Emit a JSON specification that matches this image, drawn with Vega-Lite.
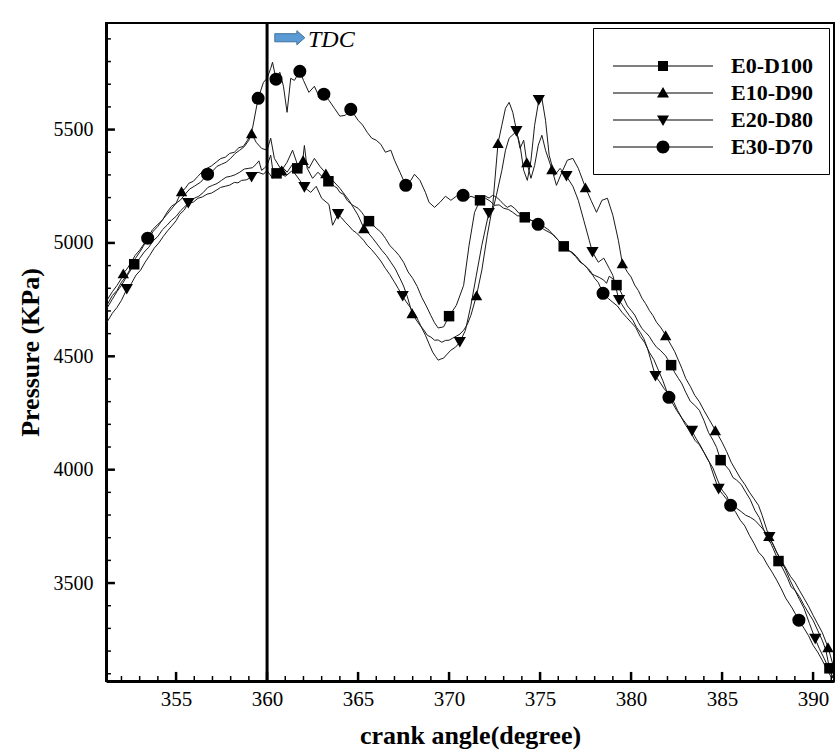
{
  "$schema": "https://vega.github.io/schema/vega-lite/v6.json",
  "width": 728,
  "height": 658,
  "autosize": {"type": "none"},
  "padding": {"left": 106, "top": 23, "right": 6, "bottom": 71},
  "background": "white",
  "config": {
    "font": "Liberation Serif",
    "view": {"stroke": "black", "strokeWidth": 2},
    "axis": {
      "domainColor": "black",
      "domainWidth": 3,
      "ticks": false,
      "grid": false,
      "labelColor": "black",
      "titleColor": "black",
      "labelFont": "Liberation Serif",
      "titleFont": "Liberation Serif",
      "titleFontWeight": "bold",
      "labelFontSize": 20,
      "titleFontSize": 26,
      "labelOverlap": false,
      "labelFlush": false
    }
  },
  "data": {
    "values": [
      {"s": "E0-D100", "a": 351.2, "p": 4712},
      {"s": "E0-D100", "a": 351.5, "p": 4752},
      {"s": "E0-D100", "a": 351.75, "p": 4785},
      {"s": "E0-D100", "a": 352.0, "p": 4813},
      {"s": "E0-D100", "a": 352.35, "p": 4860},
      {"s": "E0-D100", "a": 352.7, "p": 4906, "m": 1},
      {"s": "E0-D100", "a": 353.0, "p": 4932},
      {"s": "E0-D100", "a": 353.25, "p": 4960},
      {"s": "E0-D100", "a": 353.5, "p": 4981},
      {"s": "E0-D100", "a": 353.75, "p": 5010},
      {"s": "E0-D100", "a": 354.0, "p": 5029},
      {"s": "E0-D100", "a": 354.25, "p": 5058},
      {"s": "E0-D100", "a": 354.5, "p": 5078},
      {"s": "E0-D100", "a": 354.75, "p": 5100},
      {"s": "E0-D100", "a": 355.0, "p": 5117},
      {"s": "E0-D100", "a": 355.25, "p": 5142},
      {"s": "E0-D100", "a": 355.5, "p": 5162},
      {"s": "E0-D100", "a": 355.75, "p": 5178},
      {"s": "E0-D100", "a": 356.0, "p": 5197},
      {"s": "E0-D100", "a": 356.25, "p": 5206},
      {"s": "E0-D100", "a": 356.5, "p": 5223},
      {"s": "E0-D100", "a": 356.75, "p": 5245},
      {"s": "E0-D100", "a": 357.0, "p": 5254},
      {"s": "E0-D100", "a": 357.25, "p": 5262},
      {"s": "E0-D100", "a": 357.5, "p": 5276},
      {"s": "E0-D100", "a": 357.75, "p": 5290},
      {"s": "E0-D100", "a": 358.0, "p": 5294},
      {"s": "E0-D100", "a": 358.25, "p": 5301},
      {"s": "E0-D100", "a": 358.5, "p": 5312},
      {"s": "E0-D100", "a": 358.75, "p": 5326},
      {"s": "E0-D100", "a": 359.0, "p": 5329},
      {"s": "E0-D100", "a": 359.2, "p": 5332},
      {"s": "E0-D100", "a": 359.4, "p": 5347},
      {"s": "E0-D100", "a": 359.55, "p": 5362},
      {"s": "E0-D100", "a": 359.7, "p": 5320},
      {"s": "E0-D100", "a": 359.85, "p": 5330},
      {"s": "E0-D100", "a": 360.0, "p": 5342},
      {"s": "E0-D100", "a": 360.2, "p": 5387},
      {"s": "E0-D100", "a": 360.35, "p": 5300},
      {"s": "E0-D100", "a": 360.52, "p": 5307, "m": 1},
      {"s": "E0-D100", "a": 360.8, "p": 5338},
      {"s": "E0-D100", "a": 361.1, "p": 5312},
      {"s": "E0-D100", "a": 361.4, "p": 5347},
      {"s": "E0-D100", "a": 361.66, "p": 5329, "m": 1},
      {"s": "E0-D100", "a": 361.9, "p": 5320},
      {"s": "E0-D100", "a": 362.05, "p": 5430},
      {"s": "E0-D100", "a": 362.2, "p": 5330},
      {"s": "E0-D100", "a": 362.5, "p": 5285},
      {"s": "E0-D100", "a": 362.8, "p": 5312},
      {"s": "E0-D100", "a": 363.0, "p": 5294},
      {"s": "E0-D100", "a": 363.37, "p": 5272, "m": 1},
      {"s": "E0-D100", "a": 363.55, "p": 5258},
      {"s": "E0-D100", "a": 363.7, "p": 5250},
      {"s": "E0-D100", "a": 363.85, "p": 5242},
      {"s": "E0-D100", "a": 364.0, "p": 5223},
      {"s": "E0-D100", "a": 364.2, "p": 5214},
      {"s": "E0-D100", "a": 364.4, "p": 5188},
      {"s": "E0-D100", "a": 364.6, "p": 5172},
      {"s": "E0-D100", "a": 364.8, "p": 5162},
      {"s": "E0-D100", "a": 365.0, "p": 5153},
      {"s": "E0-D100", "a": 365.2, "p": 5135},
      {"s": "E0-D100", "a": 365.4, "p": 5112},
      {"s": "E0-D100", "a": 365.6, "p": 5096, "m": 1},
      {"s": "E0-D100", "a": 365.8, "p": 5080},
      {"s": "E0-D100", "a": 366.0, "p": 5065},
      {"s": "E0-D100", "a": 366.25, "p": 5048},
      {"s": "E0-D100", "a": 366.5, "p": 5021},
      {"s": "E0-D100", "a": 366.75, "p": 4988},
      {"s": "E0-D100", "a": 367.0, "p": 4968},
      {"s": "E0-D100", "a": 367.25, "p": 4945},
      {"s": "E0-D100", "a": 367.5, "p": 4915},
      {"s": "E0-D100", "a": 367.75, "p": 4872},
      {"s": "E0-D100", "a": 368.0, "p": 4844},
      {"s": "E0-D100", "a": 368.25, "p": 4808},
      {"s": "E0-D100", "a": 368.5, "p": 4760},
      {"s": "E0-D100", "a": 368.75, "p": 4722},
      {"s": "E0-D100", "a": 369.0, "p": 4680},
      {"s": "E0-D100", "a": 369.2, "p": 4648},
      {"s": "E0-D100", "a": 369.4, "p": 4625},
      {"s": "E0-D100", "a": 369.7, "p": 4630},
      {"s": "E0-D100", "a": 370.0, "p": 4677, "m": 1},
      {"s": "E0-D100", "a": 370.4, "p": 4725},
      {"s": "E0-D100", "a": 370.8, "p": 4813},
      {"s": "E0-D100", "a": 371.1, "p": 4990},
      {"s": "E0-D100", "a": 371.4, "p": 5135},
      {"s": "E0-D100", "a": 371.7, "p": 5188, "m": 1},
      {"s": "E0-D100", "a": 372.0, "p": 5206},
      {"s": "E0-D100", "a": 372.2, "p": 5198},
      {"s": "E0-D100", "a": 372.4, "p": 5210},
      {"s": "E0-D100", "a": 372.6, "p": 5202},
      {"s": "E0-D100", "a": 372.8, "p": 5188},
      {"s": "E0-D100", "a": 373.0, "p": 5170},
      {"s": "E0-D100", "a": 373.2, "p": 5157},
      {"s": "E0-D100", "a": 373.4, "p": 5165},
      {"s": "E0-D100", "a": 373.6, "p": 5153},
      {"s": "E0-D100", "a": 373.85, "p": 5130},
      {"s": "E0-D100", "a": 374.16, "p": 5113, "m": 1},
      {"s": "E0-D100", "a": 374.5, "p": 5100},
      {"s": "E0-D100", "a": 374.75, "p": 5095},
      {"s": "E0-D100", "a": 375.0, "p": 5082},
      {"s": "E0-D100", "a": 375.25, "p": 5070},
      {"s": "E0-D100", "a": 375.5, "p": 5056},
      {"s": "E0-D100", "a": 375.75, "p": 5032},
      {"s": "E0-D100", "a": 376.0, "p": 5012},
      {"s": "E0-D100", "a": 376.3, "p": 4985, "m": 1},
      {"s": "E0-D100", "a": 376.5, "p": 4972},
      {"s": "E0-D100", "a": 376.7, "p": 4959},
      {"s": "E0-D100", "a": 376.95, "p": 4940},
      {"s": "E0-D100", "a": 377.2, "p": 4915},
      {"s": "E0-D100", "a": 377.4, "p": 4905},
      {"s": "E0-D100", "a": 377.6, "p": 4888},
      {"s": "E0-D100", "a": 377.8, "p": 4865},
      {"s": "E0-D100", "a": 378.0, "p": 4857},
      {"s": "E0-D100", "a": 378.25, "p": 4848},
      {"s": "E0-D100", "a": 378.5, "p": 4836},
      {"s": "E0-D100", "a": 378.65, "p": 4822},
      {"s": "E0-D100", "a": 378.8, "p": 4853},
      {"s": "E0-D100", "a": 379.0, "p": 4842},
      {"s": "E0-D100", "a": 379.2, "p": 4814, "m": 1},
      {"s": "E0-D100", "a": 379.4, "p": 4790},
      {"s": "E0-D100", "a": 379.6, "p": 4756},
      {"s": "E0-D100", "a": 379.8, "p": 4722},
      {"s": "E0-D100", "a": 380.0, "p": 4703},
      {"s": "E0-D100", "a": 380.2, "p": 4682},
      {"s": "E0-D100", "a": 380.4, "p": 4650},
      {"s": "E0-D100", "a": 380.6, "p": 4622},
      {"s": "E0-D100", "a": 380.8, "p": 4606},
      {"s": "E0-D100", "a": 381.0, "p": 4588},
      {"s": "E0-D100", "a": 381.2, "p": 4562},
      {"s": "E0-D100", "a": 381.4, "p": 4540},
      {"s": "E0-D100", "a": 381.6, "p": 4527},
      {"s": "E0-D100", "a": 381.9, "p": 4502},
      {"s": "E0-D100", "a": 382.2, "p": 4461, "m": 1},
      {"s": "E0-D100", "a": 382.4, "p": 4428},
      {"s": "E0-D100", "a": 382.6, "p": 4403},
      {"s": "E0-D100", "a": 382.8, "p": 4378},
      {"s": "E0-D100", "a": 383.0, "p": 4342},
      {"s": "E0-D100", "a": 383.25, "p": 4302},
      {"s": "E0-D100", "a": 383.5, "p": 4284},
      {"s": "E0-D100", "a": 383.75, "p": 4262},
      {"s": "E0-D100", "a": 384.0, "p": 4218},
      {"s": "E0-D100", "a": 384.25, "p": 4165},
      {"s": "E0-D100", "a": 384.5, "p": 4130},
      {"s": "E0-D100", "a": 384.7, "p": 4098},
      {"s": "E0-D100", "a": 384.92, "p": 4042, "m": 1},
      {"s": "E0-D100", "a": 385.15, "p": 4022},
      {"s": "E0-D100", "a": 385.4, "p": 3998},
      {"s": "E0-D100", "a": 385.6, "p": 3965},
      {"s": "E0-D100", "a": 385.8, "p": 3954},
      {"s": "E0-D100", "a": 386.05, "p": 3935},
      {"s": "E0-D100", "a": 386.3, "p": 3901},
      {"s": "E0-D100", "a": 386.55, "p": 3868},
      {"s": "E0-D100", "a": 386.8, "p": 3821},
      {"s": "E0-D100", "a": 387.05, "p": 3788},
      {"s": "E0-D100", "a": 387.3, "p": 3733},
      {"s": "E0-D100", "a": 387.55, "p": 3698},
      {"s": "E0-D100", "a": 387.8, "p": 3654},
      {"s": "E0-D100", "a": 388.1, "p": 3597, "m": 1},
      {"s": "E0-D100", "a": 388.35, "p": 3562},
      {"s": "E0-D100", "a": 388.6, "p": 3521},
      {"s": "E0-D100", "a": 388.8, "p": 3482},
      {"s": "E0-D100", "a": 389.0, "p": 3469},
      {"s": "E0-D100", "a": 389.25, "p": 3440},
      {"s": "E0-D100", "a": 389.5, "p": 3402},
      {"s": "E0-D100", "a": 389.75, "p": 3368},
      {"s": "E0-D100", "a": 390.0, "p": 3336},
      {"s": "E0-D100", "a": 390.25, "p": 3292},
      {"s": "E0-D100", "a": 390.5, "p": 3248},
      {"s": "E0-D100", "a": 390.7, "p": 3205},
      {"s": "E0-D100", "a": 390.9, "p": 3124, "m": 1},
      {"s": "E0-D100", "a": 391.1, "p": 3080},

      {"s": "E10-D90", "a": 351.2, "p": 4747},
      {"s": "E10-D90", "a": 351.5, "p": 4785},
      {"s": "E10-D90", "a": 351.75, "p": 4812},
      {"s": "E10-D90", "a": 352.0, "p": 4844},
      {"s": "E10-D90", "a": 352.1, "p": 4866, "m": 1},
      {"s": "E10-D90", "a": 352.3, "p": 4885},
      {"s": "E10-D90", "a": 352.5, "p": 4910},
      {"s": "E10-D90", "a": 352.75, "p": 4945},
      {"s": "E10-D90", "a": 353.0, "p": 4968},
      {"s": "E10-D90", "a": 353.25, "p": 4998},
      {"s": "E10-D90", "a": 353.5, "p": 5021},
      {"s": "E10-D90", "a": 353.75, "p": 5052},
      {"s": "E10-D90", "a": 354.0, "p": 5073},
      {"s": "E10-D90", "a": 354.25, "p": 5102},
      {"s": "E10-D90", "a": 354.5, "p": 5126},
      {"s": "E10-D90", "a": 354.75, "p": 5150},
      {"s": "E10-D90", "a": 355.0, "p": 5175},
      {"s": "E10-D90", "a": 355.3, "p": 5228, "m": 1},
      {"s": "E10-D90", "a": 355.5, "p": 5240},
      {"s": "E10-D90", "a": 355.7, "p": 5263},
      {"s": "E10-D90", "a": 355.95, "p": 5272},
      {"s": "E10-D90", "a": 356.2, "p": 5294},
      {"s": "E10-D90", "a": 356.45, "p": 5315},
      {"s": "E10-D90", "a": 356.7, "p": 5329},
      {"s": "E10-D90", "a": 356.95, "p": 5340},
      {"s": "E10-D90", "a": 357.2, "p": 5356},
      {"s": "E10-D90", "a": 357.45, "p": 5372},
      {"s": "E10-D90", "a": 357.7, "p": 5378},
      {"s": "E10-D90", "a": 357.95, "p": 5395},
      {"s": "E10-D90", "a": 358.2, "p": 5400},
      {"s": "E10-D90", "a": 358.45, "p": 5420},
      {"s": "E10-D90", "a": 358.7, "p": 5426},
      {"s": "E10-D90", "a": 358.9, "p": 5450},
      {"s": "E10-D90", "a": 359.15, "p": 5484, "m": 1},
      {"s": "E10-D90", "a": 359.4, "p": 5444},
      {"s": "E10-D90", "a": 359.7, "p": 5417},
      {"s": "E10-D90", "a": 360.0, "p": 5409},
      {"s": "E10-D90", "a": 360.2, "p": 5462},
      {"s": "E10-D90", "a": 360.4, "p": 5373},
      {"s": "E10-D90", "a": 360.8, "p": 5320, "m": 1},
      {"s": "E10-D90", "a": 361.1, "p": 5356},
      {"s": "E10-D90", "a": 361.4, "p": 5409},
      {"s": "E10-D90", "a": 361.7, "p": 5338},
      {"s": "E10-D90", "a": 361.98, "p": 5365, "m": 1},
      {"s": "E10-D90", "a": 362.3, "p": 5329},
      {"s": "E10-D90", "a": 362.6, "p": 5373},
      {"s": "E10-D90", "a": 362.9, "p": 5338},
      {"s": "E10-D90", "a": 363.23, "p": 5307, "m": 1},
      {"s": "E10-D90", "a": 363.6, "p": 5276},
      {"s": "E10-D90", "a": 364.0, "p": 5241},
      {"s": "E10-D90", "a": 364.5, "p": 5188},
      {"s": "E10-D90", "a": 365.0, "p": 5122},
      {"s": "E10-D90", "a": 365.32, "p": 5065, "m": 1},
      {"s": "E10-D90", "a": 365.55, "p": 5045},
      {"s": "E10-D90", "a": 365.8, "p": 5021},
      {"s": "E10-D90", "a": 366.05, "p": 4995},
      {"s": "E10-D90", "a": 366.3, "p": 4968},
      {"s": "E10-D90", "a": 366.55, "p": 4945},
      {"s": "E10-D90", "a": 366.8, "p": 4915},
      {"s": "E10-D90", "a": 367.05, "p": 4885},
      {"s": "E10-D90", "a": 367.3, "p": 4844},
      {"s": "E10-D90", "a": 367.5, "p": 4810},
      {"s": "E10-D90", "a": 367.7, "p": 4765},
      {"s": "E10-D90", "a": 367.97, "p": 4690, "m": 1},
      {"s": "E10-D90", "a": 368.2, "p": 4660},
      {"s": "E10-D90", "a": 368.4, "p": 4637},
      {"s": "E10-D90", "a": 368.6, "p": 4618},
      {"s": "E10-D90", "a": 368.8, "p": 4593},
      {"s": "E10-D90", "a": 369.0, "p": 4585},
      {"s": "E10-D90", "a": 369.2, "p": 4571},
      {"s": "E10-D90", "a": 369.4, "p": 4572},
      {"s": "E10-D90", "a": 369.6, "p": 4562},
      {"s": "E10-D90", "a": 369.8, "p": 4570},
      {"s": "E10-D90", "a": 370.0, "p": 4571},
      {"s": "E10-D90", "a": 370.2, "p": 4580},
      {"s": "E10-D90", "a": 370.4, "p": 4589},
      {"s": "E10-D90", "a": 370.6, "p": 4598},
      {"s": "E10-D90", "a": 370.8, "p": 4615},
      {"s": "E10-D90", "a": 371.0, "p": 4640},
      {"s": "E10-D90", "a": 371.2, "p": 4681},
      {"s": "E10-D90", "a": 371.51, "p": 4769, "m": 1},
      {"s": "E10-D90", "a": 371.8, "p": 4880},
      {"s": "E10-D90", "a": 372.1, "p": 5034},
      {"s": "E10-D90", "a": 372.4, "p": 5166},
      {"s": "E10-D90", "a": 372.69, "p": 5440, "m": 1},
      {"s": "E10-D90", "a": 372.9, "p": 5519},
      {"s": "E10-D90", "a": 373.1, "p": 5594},
      {"s": "E10-D90", "a": 373.3, "p": 5620},
      {"s": "E10-D90", "a": 373.5, "p": 5576},
      {"s": "E10-D90", "a": 373.7, "p": 5497},
      {"s": "E10-D90", "a": 373.9, "p": 5417},
      {"s": "E10-D90", "a": 374.1, "p": 5453},
      {"s": "E10-D90", "a": 374.27, "p": 5356, "m": 1},
      {"s": "E10-D90", "a": 374.5, "p": 5285},
      {"s": "E10-D90", "a": 374.7, "p": 5342},
      {"s": "E10-D90", "a": 374.9, "p": 5431},
      {"s": "E10-D90", "a": 375.1, "p": 5475},
      {"s": "E10-D90", "a": 375.3, "p": 5409},
      {"s": "E10-D90", "a": 375.65, "p": 5325, "m": 1},
      {"s": "E10-D90", "a": 375.9, "p": 5254},
      {"s": "E10-D90", "a": 376.2, "p": 5312},
      {"s": "E10-D90", "a": 376.5, "p": 5365},
      {"s": "E10-D90", "a": 376.8, "p": 5373},
      {"s": "E10-D90", "a": 377.1, "p": 5329},
      {"s": "E10-D90", "a": 377.49, "p": 5245, "m": 1},
      {"s": "E10-D90", "a": 377.8, "p": 5188},
      {"s": "E10-D90", "a": 378.1, "p": 5135},
      {"s": "E10-D90", "a": 378.4, "p": 5188},
      {"s": "E10-D90", "a": 378.7, "p": 5197},
      {"s": "E10-D90", "a": 379.0, "p": 5122},
      {"s": "E10-D90", "a": 379.3, "p": 5012},
      {"s": "E10-D90", "a": 379.52, "p": 4910, "m": 1},
      {"s": "E10-D90", "a": 379.65, "p": 4892},
      {"s": "E10-D90", "a": 379.8, "p": 4871},
      {"s": "E10-D90", "a": 380.0, "p": 4850},
      {"s": "E10-D90", "a": 380.2, "p": 4814},
      {"s": "E10-D90", "a": 380.4, "p": 4790},
      {"s": "E10-D90", "a": 380.6, "p": 4756},
      {"s": "E10-D90", "a": 380.8, "p": 4732},
      {"s": "E10-D90", "a": 381.0, "p": 4703},
      {"s": "E10-D90", "a": 381.2, "p": 4680},
      {"s": "E10-D90", "a": 381.4, "p": 4650},
      {"s": "E10-D90", "a": 381.65, "p": 4625},
      {"s": "E10-D90", "a": 381.9, "p": 4593, "m": 1},
      {"s": "E10-D90", "a": 382.05, "p": 4570},
      {"s": "E10-D90", "a": 382.2, "p": 4549},
      {"s": "E10-D90", "a": 382.4, "p": 4520},
      {"s": "E10-D90", "a": 382.6, "p": 4483},
      {"s": "E10-D90", "a": 382.8, "p": 4445},
      {"s": "E10-D90", "a": 383.0, "p": 4403},
      {"s": "E10-D90", "a": 383.25, "p": 4368},
      {"s": "E10-D90", "a": 383.5, "p": 4328},
      {"s": "E10-D90", "a": 383.75, "p": 4300},
      {"s": "E10-D90", "a": 384.0, "p": 4262},
      {"s": "E10-D90", "a": 384.3, "p": 4220},
      {"s": "E10-D90", "a": 384.63, "p": 4174, "m": 1},
      {"s": "E10-D90", "a": 384.8, "p": 4150},
      {"s": "E10-D90", "a": 385.0, "p": 4121},
      {"s": "E10-D90", "a": 385.25, "p": 4080},
      {"s": "E10-D90", "a": 385.5, "p": 4033},
      {"s": "E10-D90", "a": 385.75, "p": 3998},
      {"s": "E10-D90", "a": 386.0, "p": 3963},
      {"s": "E10-D90", "a": 386.25, "p": 3935},
      {"s": "E10-D90", "a": 386.5, "p": 3901},
      {"s": "E10-D90", "a": 386.75, "p": 3872},
      {"s": "E10-D90", "a": 387.0, "p": 3843},
      {"s": "E10-D90", "a": 387.2, "p": 3799},
      {"s": "E10-D90", "a": 387.57, "p": 3707, "m": 1},
      {"s": "E10-D90", "a": 387.8, "p": 3670},
      {"s": "E10-D90", "a": 388.0, "p": 3636},
      {"s": "E10-D90", "a": 388.25, "p": 3600},
      {"s": "E10-D90", "a": 388.5, "p": 3566},
      {"s": "E10-D90", "a": 388.75, "p": 3530},
      {"s": "E10-D90", "a": 389.0, "p": 3504},
      {"s": "E10-D90", "a": 389.25, "p": 3468},
      {"s": "E10-D90", "a": 389.5, "p": 3433},
      {"s": "E10-D90", "a": 389.75, "p": 3398},
      {"s": "E10-D90", "a": 390.0, "p": 3358},
      {"s": "E10-D90", "a": 390.25, "p": 3320},
      {"s": "E10-D90", "a": 390.5, "p": 3283},
      {"s": "E10-D90", "a": 390.82, "p": 3217, "m": 1},
      {"s": "E10-D90", "a": 391.1, "p": 3138},

      {"s": "E20-D80", "a": 351.2, "p": 4650},
      {"s": "E20-D80", "a": 351.5, "p": 4690},
      {"s": "E20-D80", "a": 351.75, "p": 4715},
      {"s": "E20-D80", "a": 352.0, "p": 4747},
      {"s": "E20-D80", "a": 352.29, "p": 4796, "m": 1},
      {"s": "E20-D80", "a": 352.55, "p": 4822},
      {"s": "E20-D80", "a": 352.8, "p": 4858},
      {"s": "E20-D80", "a": 353.05, "p": 4880},
      {"s": "E20-D80", "a": 353.3, "p": 4915},
      {"s": "E20-D80", "a": 353.55, "p": 4945},
      {"s": "E20-D80", "a": 353.8, "p": 4977},
      {"s": "E20-D80", "a": 354.05, "p": 5000},
      {"s": "E20-D80", "a": 354.3, "p": 5029},
      {"s": "E20-D80", "a": 354.55, "p": 5055},
      {"s": "E20-D80", "a": 354.8, "p": 5078},
      {"s": "E20-D80", "a": 355.0, "p": 5098},
      {"s": "E20-D80", "a": 355.2, "p": 5126},
      {"s": "E20-D80", "a": 355.45, "p": 5145},
      {"s": "E20-D80", "a": 355.67, "p": 5175, "m": 1},
      {"s": "E20-D80", "a": 355.95, "p": 5180},
      {"s": "E20-D80", "a": 356.2, "p": 5197},
      {"s": "E20-D80", "a": 356.45, "p": 5203},
      {"s": "E20-D80", "a": 356.7, "p": 5215},
      {"s": "E20-D80", "a": 356.95, "p": 5220},
      {"s": "E20-D80", "a": 357.2, "p": 5232},
      {"s": "E20-D80", "a": 357.45, "p": 5245},
      {"s": "E20-D80", "a": 357.7, "p": 5250},
      {"s": "E20-D80", "a": 357.95, "p": 5255},
      {"s": "E20-D80", "a": 358.2, "p": 5267},
      {"s": "E20-D80", "a": 358.4, "p": 5265},
      {"s": "E20-D80", "a": 358.6, "p": 5276},
      {"s": "E20-D80", "a": 358.85, "p": 5278},
      {"s": "E20-D80", "a": 359.15, "p": 5290, "m": 1},
      {"s": "E20-D80", "a": 359.5, "p": 5312},
      {"s": "E20-D80", "a": 359.8, "p": 5303},
      {"s": "E20-D80", "a": 360.0, "p": 5320},
      {"s": "E20-D80", "a": 360.3, "p": 5285},
      {"s": "E20-D80", "a": 360.6, "p": 5312},
      {"s": "E20-D80", "a": 361.0, "p": 5294},
      {"s": "E20-D80", "a": 361.4, "p": 5320},
      {"s": "E20-D80", "a": 361.8, "p": 5276},
      {"s": "E20-D80", "a": 362.05, "p": 5245, "m": 1},
      {"s": "E20-D80", "a": 362.4, "p": 5223},
      {"s": "E20-D80", "a": 362.7, "p": 5250},
      {"s": "E20-D80", "a": 363.0, "p": 5197},
      {"s": "E20-D80", "a": 363.4, "p": 5170},
      {"s": "E20-D80", "a": 363.6, "p": 5078},
      {"s": "E20-D80", "a": 363.9, "p": 5126, "m": 1},
      {"s": "E20-D80", "a": 364.1, "p": 5110},
      {"s": "E20-D80", "a": 364.3, "p": 5091},
      {"s": "E20-D80", "a": 364.5, "p": 5075},
      {"s": "E20-D80", "a": 364.7, "p": 5056},
      {"s": "E20-D80", "a": 364.9, "p": 5045},
      {"s": "E20-D80", "a": 365.1, "p": 5029},
      {"s": "E20-D80", "a": 365.3, "p": 5012},
      {"s": "E20-D80", "a": 365.5, "p": 4990},
      {"s": "E20-D80", "a": 365.75, "p": 4970},
      {"s": "E20-D80", "a": 366.0, "p": 4946},
      {"s": "E20-D80", "a": 366.25, "p": 4920},
      {"s": "E20-D80", "a": 366.5, "p": 4888},
      {"s": "E20-D80", "a": 366.75, "p": 4860},
      {"s": "E20-D80", "a": 367.0, "p": 4827},
      {"s": "E20-D80", "a": 367.2, "p": 4800},
      {"s": "E20-D80", "a": 367.45, "p": 4765, "m": 1},
      {"s": "E20-D80", "a": 367.65, "p": 4740},
      {"s": "E20-D80", "a": 367.9, "p": 4712},
      {"s": "E20-D80", "a": 368.1, "p": 4690},
      {"s": "E20-D80", "a": 368.3, "p": 4659},
      {"s": "E20-D80", "a": 368.5, "p": 4625},
      {"s": "E20-D80", "a": 368.7, "p": 4593},
      {"s": "E20-D80", "a": 368.9, "p": 4555},
      {"s": "E20-D80", "a": 369.1, "p": 4518},
      {"s": "E20-D80", "a": 369.25, "p": 4500},
      {"s": "E20-D80", "a": 369.4, "p": 4483},
      {"s": "E20-D80", "a": 369.55, "p": 4488},
      {"s": "E20-D80", "a": 369.7, "p": 4492},
      {"s": "E20-D80", "a": 369.9, "p": 4510},
      {"s": "E20-D80", "a": 370.1, "p": 4527},
      {"s": "E20-D80", "a": 370.35, "p": 4540},
      {"s": "E20-D80", "a": 370.59, "p": 4562, "m": 1},
      {"s": "E20-D80", "a": 370.9, "p": 4615},
      {"s": "E20-D80", "a": 371.2, "p": 4725},
      {"s": "E20-D80", "a": 371.5, "p": 4858},
      {"s": "E20-D80", "a": 371.8, "p": 4990},
      {"s": "E20-D80", "a": 372.18, "p": 5131, "m": 1},
      {"s": "E20-D80", "a": 372.4, "p": 5144},
      {"s": "E20-D80", "a": 372.6, "p": 5210},
      {"s": "E20-D80", "a": 372.9, "p": 5320},
      {"s": "E20-D80", "a": 373.1, "p": 5409},
      {"s": "E20-D80", "a": 373.3, "p": 5462},
      {"s": "E20-D80", "a": 373.7, "p": 5492, "m": 1},
      {"s": "E20-D80", "a": 373.9, "p": 5431},
      {"s": "E20-D80", "a": 374.1, "p": 5320},
      {"s": "E20-D80", "a": 374.3, "p": 5276},
      {"s": "E20-D80", "a": 374.5, "p": 5365},
      {"s": "E20-D80", "a": 374.7, "p": 5519},
      {"s": "E20-D80", "a": 374.93, "p": 5629, "m": 1},
      {"s": "E20-D80", "a": 375.1, "p": 5638},
      {"s": "E20-D80", "a": 375.3, "p": 5541},
      {"s": "E20-D80", "a": 375.5, "p": 5387},
      {"s": "E20-D80", "a": 375.8, "p": 5298},
      {"s": "E20-D80", "a": 376.1, "p": 5329},
      {"s": "E20-D80", "a": 376.45, "p": 5294, "m": 1},
      {"s": "E20-D80", "a": 376.8, "p": 5250},
      {"s": "E20-D80", "a": 377.1, "p": 5188},
      {"s": "E20-D80", "a": 377.4, "p": 5100},
      {"s": "E20-D80", "a": 377.7, "p": 5012},
      {"s": "E20-D80", "a": 377.88, "p": 4959, "m": 1},
      {"s": "E20-D80", "a": 378.2, "p": 4915},
      {"s": "E20-D80", "a": 378.5, "p": 4933},
      {"s": "E20-D80", "a": 378.8, "p": 4888},
      {"s": "E20-D80", "a": 379.0, "p": 4857},
      {"s": "E20-D80", "a": 379.34, "p": 4747, "m": 1},
      {"s": "E20-D80", "a": 379.5, "p": 4728},
      {"s": "E20-D80", "a": 379.7, "p": 4703},
      {"s": "E20-D80", "a": 379.9, "p": 4680},
      {"s": "E20-D80", "a": 380.1, "p": 4659},
      {"s": "E20-D80", "a": 380.3, "p": 4628},
      {"s": "E20-D80", "a": 380.5, "p": 4606},
      {"s": "E20-D80", "a": 380.7, "p": 4578},
      {"s": "E20-D80", "a": 380.9, "p": 4536},
      {"s": "E20-D80", "a": 381.1, "p": 4480},
      {"s": "E20-D80", "a": 381.34, "p": 4412, "m": 1},
      {"s": "E20-D80", "a": 381.55, "p": 4390},
      {"s": "E20-D80", "a": 381.8, "p": 4359},
      {"s": "E20-D80", "a": 382.05, "p": 4335},
      {"s": "E20-D80", "a": 382.3, "p": 4306},
      {"s": "E20-D80", "a": 382.55, "p": 4262},
      {"s": "E20-D80", "a": 382.8, "p": 4227},
      {"s": "E20-D80", "a": 383.05, "p": 4200},
      {"s": "E20-D80", "a": 383.35, "p": 4170, "m": 1},
      {"s": "E20-D80", "a": 383.55, "p": 4140},
      {"s": "E20-D80", "a": 383.8, "p": 4108},
      {"s": "E20-D80", "a": 384.05, "p": 4070},
      {"s": "E20-D80", "a": 384.3, "p": 4033},
      {"s": "E20-D80", "a": 384.55, "p": 3972},
      {"s": "E20-D80", "a": 384.81, "p": 3914, "m": 1},
      {"s": "E20-D80", "a": 385.05, "p": 3890},
      {"s": "E20-D80", "a": 385.3, "p": 3865},
      {"s": "E20-D80", "a": 385.55, "p": 3848},
      {"s": "E20-D80", "a": 385.8, "p": 3830},
      {"s": "E20-D80", "a": 386.05, "p": 3815},
      {"s": "E20-D80", "a": 386.3, "p": 3799},
      {"s": "E20-D80", "a": 386.55, "p": 3790},
      {"s": "E20-D80", "a": 386.8, "p": 3777},
      {"s": "E20-D80", "a": 387.0, "p": 3760},
      {"s": "E20-D80", "a": 387.2, "p": 3742},
      {"s": "E20-D80", "a": 387.6, "p": 3702, "m": 1},
      {"s": "E20-D80", "a": 387.8, "p": 3672},
      {"s": "E20-D80", "a": 388.0, "p": 3636},
      {"s": "E20-D80", "a": 388.25, "p": 3598},
      {"s": "E20-D80", "a": 388.5, "p": 3557},
      {"s": "E20-D80", "a": 388.75, "p": 3510},
      {"s": "E20-D80", "a": 389.0, "p": 3469},
      {"s": "E20-D80", "a": 389.25, "p": 3428},
      {"s": "E20-D80", "a": 389.5, "p": 3389},
      {"s": "E20-D80", "a": 389.8, "p": 3322},
      {"s": "E20-D80", "a": 390.12, "p": 3253, "m": 1},
      {"s": "E20-D80", "a": 390.35, "p": 3210},
      {"s": "E20-D80", "a": 390.6, "p": 3169},
      {"s": "E20-D80", "a": 390.85, "p": 3125},
      {"s": "E20-D80", "a": 391.1, "p": 3080},

      {"s": "E30-D70", "a": 351.2, "p": 4725},
      {"s": "E30-D70", "a": 351.5, "p": 4768},
      {"s": "E30-D70", "a": 351.75, "p": 4790},
      {"s": "E30-D70", "a": 352.0, "p": 4827},
      {"s": "E30-D70", "a": 352.25, "p": 4852},
      {"s": "E30-D70", "a": 352.5, "p": 4888},
      {"s": "E30-D70", "a": 352.75, "p": 4930},
      {"s": "E30-D70", "a": 353.0, "p": 4959},
      {"s": "E30-D70", "a": 353.2, "p": 4985},
      {"s": "E30-D70", "a": 353.44, "p": 5021, "m": 1},
      {"s": "E30-D70", "a": 353.7, "p": 5058},
      {"s": "E30-D70", "a": 354.0, "p": 5082},
      {"s": "E30-D70", "a": 354.25, "p": 5100},
      {"s": "E30-D70", "a": 354.5, "p": 5135},
      {"s": "E30-D70", "a": 354.75, "p": 5162},
      {"s": "E30-D70", "a": 355.0, "p": 5175},
      {"s": "E30-D70", "a": 355.25, "p": 5190},
      {"s": "E30-D70", "a": 355.5, "p": 5215},
      {"s": "E30-D70", "a": 355.75, "p": 5238},
      {"s": "E30-D70", "a": 356.0, "p": 5250},
      {"s": "E30-D70", "a": 356.35, "p": 5268},
      {"s": "E30-D70", "a": 356.73, "p": 5303, "m": 1},
      {"s": "E30-D70", "a": 357.0, "p": 5316},
      {"s": "E30-D70", "a": 357.25, "p": 5338},
      {"s": "E30-D70", "a": 357.5, "p": 5347},
      {"s": "E30-D70", "a": 357.75, "p": 5356},
      {"s": "E30-D70", "a": 358.0, "p": 5373},
      {"s": "E30-D70", "a": 358.25, "p": 5395},
      {"s": "E30-D70", "a": 358.5, "p": 5409},
      {"s": "E30-D70", "a": 358.75, "p": 5425},
      {"s": "E30-D70", "a": 359.0, "p": 5453},
      {"s": "E30-D70", "a": 359.2, "p": 5506},
      {"s": "E30-D70", "a": 359.51, "p": 5638, "m": 1},
      {"s": "E30-D70", "a": 359.8, "p": 5708},
      {"s": "E30-D70", "a": 360.0, "p": 5726},
      {"s": "E30-D70", "a": 360.2, "p": 5770},
      {"s": "E30-D70", "a": 360.3, "p": 5797},
      {"s": "E30-D70", "a": 360.49, "p": 5722, "m": 1},
      {"s": "E30-D70", "a": 360.7, "p": 5753},
      {"s": "E30-D70", "a": 360.9, "p": 5691},
      {"s": "E30-D70", "a": 361.1, "p": 5576},
      {"s": "E30-D70", "a": 361.3, "p": 5726},
      {"s": "E30-D70", "a": 361.5, "p": 5717},
      {"s": "E30-D70", "a": 361.8, "p": 5757, "m": 1},
      {"s": "E30-D70", "a": 362.0, "p": 5717},
      {"s": "E30-D70", "a": 362.3, "p": 5664},
      {"s": "E30-D70", "a": 362.6, "p": 5691},
      {"s": "E30-D70", "a": 362.9, "p": 5638},
      {"s": "E30-D70", "a": 363.12, "p": 5656, "m": 1},
      {"s": "E30-D70", "a": 363.4, "p": 5629},
      {"s": "E30-D70", "a": 363.7, "p": 5594},
      {"s": "E30-D70", "a": 364.0, "p": 5559},
      {"s": "E30-D70", "a": 364.3, "p": 5563},
      {"s": "E30-D70", "a": 364.6, "p": 5589, "m": 1},
      {"s": "E30-D70", "a": 365.0, "p": 5541},
      {"s": "E30-D70", "a": 365.25, "p": 5520},
      {"s": "E30-D70", "a": 365.5, "p": 5488},
      {"s": "E30-D70", "a": 365.75, "p": 5462},
      {"s": "E30-D70", "a": 366.0, "p": 5453},
      {"s": "E30-D70", "a": 366.25, "p": 5435},
      {"s": "E30-D70", "a": 366.5, "p": 5400},
      {"s": "E30-D70", "a": 366.8, "p": 5409},
      {"s": "E30-D70", "a": 367.0, "p": 5365},
      {"s": "E30-D70", "a": 367.3, "p": 5312},
      {"s": "E30-D70", "a": 367.62, "p": 5254, "m": 1},
      {"s": "E30-D70", "a": 367.9, "p": 5276},
      {"s": "E30-D70", "a": 368.1, "p": 5303},
      {"s": "E30-D70", "a": 368.4, "p": 5276},
      {"s": "E30-D70", "a": 368.7, "p": 5223},
      {"s": "E30-D70", "a": 368.9, "p": 5179},
      {"s": "E30-D70", "a": 369.2, "p": 5157},
      {"s": "E30-D70", "a": 369.5, "p": 5179},
      {"s": "E30-D70", "a": 369.8, "p": 5206},
      {"s": "E30-D70", "a": 370.1, "p": 5188},
      {"s": "E30-D70", "a": 370.4, "p": 5206},
      {"s": "E30-D70", "a": 370.77, "p": 5210, "m": 1},
      {"s": "E30-D70", "a": 371.0, "p": 5195},
      {"s": "E30-D70", "a": 371.2, "p": 5206},
      {"s": "E30-D70", "a": 371.4, "p": 5200},
      {"s": "E30-D70", "a": 371.6, "p": 5188},
      {"s": "E30-D70", "a": 371.8, "p": 5198},
      {"s": "E30-D70", "a": 372.0, "p": 5197},
      {"s": "E30-D70", "a": 372.25, "p": 5185},
      {"s": "E30-D70", "a": 372.5, "p": 5166},
      {"s": "E30-D70", "a": 372.75, "p": 5168},
      {"s": "E30-D70", "a": 373.0, "p": 5153},
      {"s": "E30-D70", "a": 373.25, "p": 5148},
      {"s": "E30-D70", "a": 373.5, "p": 5135},
      {"s": "E30-D70", "a": 373.75, "p": 5120},
      {"s": "E30-D70", "a": 374.0, "p": 5118},
      {"s": "E30-D70", "a": 374.25, "p": 5112},
      {"s": "E30-D70", "a": 374.5, "p": 5100},
      {"s": "E30-D70", "a": 374.89, "p": 5082, "m": 1},
      {"s": "E30-D70", "a": 375.2, "p": 5060},
      {"s": "E30-D70", "a": 375.5, "p": 5047},
      {"s": "E30-D70", "a": 375.75, "p": 5035},
      {"s": "E30-D70", "a": 376.0, "p": 5012},
      {"s": "E30-D70", "a": 376.25, "p": 4990},
      {"s": "E30-D70", "a": 376.5, "p": 4968},
      {"s": "E30-D70", "a": 376.75, "p": 4960},
      {"s": "E30-D70", "a": 377.0, "p": 4941},
      {"s": "E30-D70", "a": 377.25, "p": 4915},
      {"s": "E30-D70", "a": 377.5, "p": 4897},
      {"s": "E30-D70", "a": 377.75, "p": 4878},
      {"s": "E30-D70", "a": 378.0, "p": 4844},
      {"s": "E30-D70", "a": 378.2, "p": 4825},
      {"s": "E30-D70", "a": 378.46, "p": 4778, "m": 1},
      {"s": "E30-D70", "a": 378.75, "p": 4755},
      {"s": "E30-D70", "a": 379.0, "p": 4738},
      {"s": "E30-D70", "a": 379.25, "p": 4722},
      {"s": "E30-D70", "a": 379.5, "p": 4694},
      {"s": "E30-D70", "a": 379.75, "p": 4672},
      {"s": "E30-D70", "a": 380.0, "p": 4650},
      {"s": "E30-D70", "a": 380.25, "p": 4628},
      {"s": "E30-D70", "a": 380.5, "p": 4588},
      {"s": "E30-D70", "a": 380.75, "p": 4560},
      {"s": "E30-D70", "a": 381.0, "p": 4518},
      {"s": "E30-D70", "a": 381.25, "p": 4486},
      {"s": "E30-D70", "a": 381.5, "p": 4439},
      {"s": "E30-D70", "a": 381.75, "p": 4392},
      {"s": "E30-D70", "a": 382.08, "p": 4319, "m": 1},
      {"s": "E30-D70", "a": 382.3, "p": 4290},
      {"s": "E30-D70", "a": 382.5, "p": 4262},
      {"s": "E30-D70", "a": 382.75, "p": 4232},
      {"s": "E30-D70", "a": 383.0, "p": 4196},
      {"s": "E30-D70", "a": 383.25, "p": 4170},
      {"s": "E30-D70", "a": 383.5, "p": 4130},
      {"s": "E30-D70", "a": 383.75, "p": 4110},
      {"s": "E30-D70", "a": 384.0, "p": 4077},
      {"s": "E30-D70", "a": 384.25, "p": 4040},
      {"s": "E30-D70", "a": 384.5, "p": 4007},
      {"s": "E30-D70", "a": 384.75, "p": 3955},
      {"s": "E30-D70", "a": 385.0, "p": 3910},
      {"s": "E30-D70", "a": 385.25, "p": 3885},
      {"s": "E30-D70", "a": 385.47, "p": 3843, "m": 1},
      {"s": "E30-D70", "a": 385.75, "p": 3812},
      {"s": "E30-D70", "a": 386.0, "p": 3777},
      {"s": "E30-D70", "a": 386.25, "p": 3752},
      {"s": "E30-D70", "a": 386.5, "p": 3711},
      {"s": "E30-D70", "a": 386.75, "p": 3676},
      {"s": "E30-D70", "a": 387.0, "p": 3636},
      {"s": "E30-D70", "a": 387.25, "p": 3615},
      {"s": "E30-D70", "a": 387.5, "p": 3579},
      {"s": "E30-D70", "a": 387.75, "p": 3548},
      {"s": "E30-D70", "a": 388.0, "p": 3513},
      {"s": "E30-D70", "a": 388.25, "p": 3475},
      {"s": "E30-D70", "a": 388.5, "p": 3433},
      {"s": "E30-D70", "a": 388.85, "p": 3390},
      {"s": "E30-D70", "a": 389.22, "p": 3336, "m": 1},
      {"s": "E30-D70", "a": 389.5, "p": 3301},
      {"s": "E30-D70", "a": 389.75, "p": 3268},
      {"s": "E30-D70", "a": 390.0, "p": 3226},
      {"s": "E30-D70", "a": 390.25, "p": 3196},
      {"s": "E30-D70", "a": 390.5, "p": 3160},
      {"s": "E30-D70", "a": 390.75, "p": 3120},
      {"s": "E30-D70", "a": 391.0, "p": 3085}
    ]
  },
  "layer": [
    {
      "mark": {"type": "line", "color": "#1a1a1a", "strokeWidth": 1, "clip": true},
      "encoding": {
        "x": {
          "field": "a", "type": "quantitative",
          "scale": {"domain": [351.15, 391.15], "nice": false, "zero": false},
          "axis": {
            "orient": "bottom",
            "title": "crank angle(degree)",
            "values": [355, 360, 365, 370, 375, 380, 385, 390],
            "format": "d",
            "labelFontSize": 21,
            "labelPadding": 7,
            "titlePadding": 13
          }
        },
        "y": {
          "field": "p", "type": "quantitative",
          "scale": {"domain": [3068, 5970], "nice": false, "zero": false},
          "axis": {
            "orient": "left",
            "title": "Pressure (KPa)",
            "values": [3500, 4000, 4500, 5000, 5500],
            "format": "d",
            "labelPadding": 13,
            "titlePadding": 10
          }
        },
        "detail": {"field": "s"},
        "order": {"field": "a"}
      }
    },
    {
      "data": {"values": [{"v": 352}, {"v": 353}, {"v": 354}, {"v": 356}, {"v": 357}, {"v": 358}, {"v": 359}, {"v": 361}, {"v": 362}, {"v": 363}, {"v": 364}, {"v": 366}, {"v": 367}, {"v": 368}, {"v": 369}, {"v": 371}, {"v": 372}, {"v": 373}, {"v": 374}, {"v": 376}, {"v": 377}, {"v": 378}, {"v": 379}, {"v": 381}, {"v": 382}, {"v": 383}, {"v": 384}, {"v": 386}, {"v": 387}, {"v": 388}, {"v": 389}, {"v": 391}]},
      "mark": {"type": "rule", "color": "black", "strokeWidth": 1.5},
      "encoding": {
        "x": {"field": "v", "type": "quantitative"},
        "y": {"datum": 3068, "type": "quantitative"},
        "y2": {"datum": 3090}
      }
    },
    {
      "data": {"values": [{"v": 355}, {"v": 360}, {"v": 365}, {"v": 370}, {"v": 375}, {"v": 380}, {"v": 385}, {"v": 390}]},
      "mark": {"type": "rule", "color": "black", "strokeWidth": 2.5},
      "encoding": {
        "x": {"field": "v", "type": "quantitative"},
        "y": {"datum": 3068, "type": "quantitative"},
        "y2": {"datum": 3108}
      }
    },
    {
      "data": {"values": [{"v": 3100}, {"v": 3200}, {"v": 3300}, {"v": 3400}, {"v": 3600}, {"v": 3700}, {"v": 3800}, {"v": 3900}, {"v": 4100}, {"v": 4200}, {"v": 4300}, {"v": 4400}, {"v": 4600}, {"v": 4700}, {"v": 4800}, {"v": 4900}, {"v": 5100}, {"v": 5200}, {"v": 5300}, {"v": 5400}, {"v": 5600}, {"v": 5700}, {"v": 5800}, {"v": 5900}]},
      "mark": {"type": "rule", "color": "black", "strokeWidth": 1.5},
      "encoding": {
        "y": {"field": "v", "type": "quantitative"},
        "x": {"datum": 351.15, "type": "quantitative"},
        "x2": {"datum": 351.42}
      }
    },
    {
      "data": {"values": [{"v": 3500}, {"v": 4000}, {"v": 4500}, {"v": 5000}, {"v": 5500}]},
      "mark": {"type": "rule", "color": "black", "strokeWidth": 2.5},
      "encoding": {
        "y": {"field": "v", "type": "quantitative"},
        "x": {"datum": 351.15, "type": "quantitative"},
        "x2": {"datum": 351.64}
      }
    },
    {
      "transform": [{"filter": "datum.m === 1"}],
      "mark": {"type": "point", "filled": true, "color": "black", "opacity": 1, "clip": true},
      "encoding": {
        "x": {"field": "a", "type": "quantitative"},
        "y": {"field": "p", "type": "quantitative"},
        "shape": {
          "field": "s", "type": "nominal",
          "scale": {"domain": ["E0-D100", "E10-D90", "E20-D80", "E30-D70"], "range": ["square", "triangle-up", "triangle-down", "circle"]},
          "legend": null
        },
        "size": {
          "field": "s", "type": "nominal",
          "scale": {"domain": ["E0-D100", "E10-D90", "E20-D80", "E30-D70"], "range": [110, 170, 170, 190]},
          "legend": null
        }
      }
    },
    {
      "transform": [{"filter": "false"}],
      "mark": {"type": "point", "filled": true, "color": "black", "opacity": 1},
      "encoding": {
        "shape": {
          "field": "s", "type": "nominal",
          "scale": {
            "domain": ["E0-D100", "E10-D90", "E20-D80", "E30-D70"],
            "range": [
              "M-0.7,-0.05H9.3V0.05H-0.7ZM3.8,-0.5H4.8V0.5H3.8Z",
              "M-0.7,-0.05H9.3V0.05H-0.7ZM4.3,-0.6L4.9,0.45H3.7Z",
              "M-0.7,-0.05H9.3V0.05H-0.7ZM3.7,-0.45H4.9L4.3,0.6Z",
              "M-0.7,-0.05H9.3V0.05H-0.7ZM3.65,0A0.65,0.65,0,1,1,4.95,0A0.65,0.65,0,1,1,3.65,0Z"
            ]
          },
          "legend": {
            "title": " ",
            "titleFontSize": 8,
            "titlePadding": 3,
            "orient": "none",
            "legendX": 487,
            "legendY": 5,
            "padding": 16,
            "strokeColor": "black",
            "fillColor": "white",
            "symbolSize": 400,
            "symbolStrokeWidth": 0,
            "symbolFillColor": "black",
            "symbolOpacity": 1,
            "labelFont": "Liberation Serif",
            "labelFontWeight": "bold",
            "labelFontSize": 22,
            "labelColor": "black",
            "labelOffset": 100,
            "rowPadding": 5
          }
        }
      }
    },
    {
      "data": {"values": [{"a": 360}]},
      "mark": {"type": "rule", "color": "black", "strokeWidth": 3},
      "encoding": {"x": {"field": "a", "type": "quantitative"}}
    },
    {
      "data": {"values": [{"a": 361.25, "p": 5905}]},
      "mark": {"type": "point", "shape": "M-1,-0.27H0.47V-0.47L1,0L0.47,0.47V0.27H-1Z", "size": 900, "filled": true, "fill": "#5b9bd5", "stroke": "#41719c", "strokeWidth": 1, "opacity": 1},
      "encoding": {
        "x": {"field": "a", "type": "quantitative"},
        "y": {"field": "p", "type": "quantitative"}
      }
    },
    {
      "data": {"values": [{"a": 362.25, "p": 5895, "t": "TDC"}]},
      "mark": {"type": "text", "align": "left", "baseline": "middle", "font": "Liberation Serif", "fontStyle": "italic", "fontSize": 24, "color": "black"},
      "encoding": {
        "x": {"field": "a", "type": "quantitative"},
        "y": {"field": "p", "type": "quantitative"},
        "text": {"field": "t"}
      }
    }
  ],
  "resolve": {
    "scale": {"shape": "independent", "size": "independent"},
    "legend": {"shape": "independent"}
  }
}
